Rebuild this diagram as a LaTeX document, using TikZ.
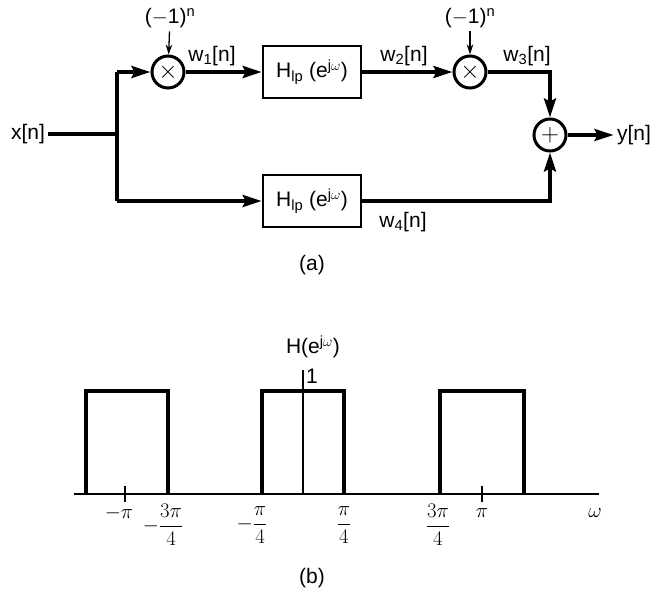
\documentclass[tikz,border=0pt]{standalone}
\usepackage{fontspec}
\usepackage{amsmath}
\setmainfont{Liberation Sans}
\usetikzlibrary{arrows.meta}

\begin{document}
\begin{tikzpicture}[
  x=1pt, y=-1pt,
  every node/.style={font=\fontsize{21}{24}\selectfont},
  sig/.style={line width=3.6pt},
  sigarr/.style={line width=3.6pt, -{Stealth[length=19pt,width=12pt,inset=3pt]}},
  thinarr/.style={line width=1.3pt, -{Stealth[length=10pt,width=6.5pt]}},
  mult/.style={draw, circle, line width=3pt, minimum size=32pt, inner sep=0pt,
    font=\fontsize{27}{27}\selectfont},
  filt/.style={draw, rectangle, line width=2.6pt, minimum width=98pt, minimum height=52pt, inner sep=0pt},
  rect/.style={line width=3.6pt},
  thinline/.style={line width=1.5pt}]
\useasboundingbox (0,0) rectangle (654,592);

% (a) block diagram
\node (xin) at (28,134) {x[n]};
\coordinate (split) at (117,134);
\coordinate (topL) at (117,72);
\coordinate (botL) at (117,201);
\node[mult] (m1) at (168,72) {$\times$};
\node (p1) at (170,18) {($-$1)\textsuperscript{n}};
\node[filt] (h1) at (312,72) {H\textsubscript{lp} (e\textsuperscript{j$\omega$})};
\node[mult] (m2) at (470,72) {$\times$};
\node (p2) at (470,18) {($-$1)\textsuperscript{n}};
\node[mult] (add) at (550,135) {$+$};
\node (yout) at (634,135) {y[n]};
\node[filt] (h2) at (312,201) {H\textsubscript{lp} (e\textsuperscript{j$\omega$})};

\node (w1) at (212,56) {w\textsubscript{1}[n]};
\node (w2) at (404,56) {w\textsubscript{2}[n]};
\node (w3) at (527,56) {w\textsubscript{3}[n]};
\node (w4) at (403,222) {w\textsubscript{4}[n]};

\draw[sig] (xin.east) -- (split);
\draw[sig] (botL) -- (topL);
\draw[sigarr] (topL) -- (m1);
\draw[sigarr] (m1) -- (h1);
\draw[sigarr] (h1) -- (m2);
\draw[sigarr] (m2) -| (add);
\draw[sigarr] (botL) -- (h2);
\draw[sigarr] (h2) -| (add);
\draw[sigarr] (add) -- (yout);
\draw[thinarr] (p1) -- (m1);
\draw[thinarr] (p2) -- (m2);

\node (capa) at (312,265) {(a)};

% (b) frequency response
\draw[thinline] (74,494) -- (599,494);
\draw[rect] (86,494) |- (168,391) -- (168,494);
\draw[rect] (262,494) |- (344,391) -- (344,494);
\draw[rect] (440,494) |- (524,391) -- (524,494);
\draw[thinline] (303,370) -- (303,494);
\draw[thinline] (125,486) -- (125,502);
\draw[thinline] (482,486) -- (482,502);

\node (hlab) at (313,347) {H(e\textsuperscript{j$\omega$})};
\node[anchor=west, inner sep=1pt] (one) at (305,376) {1};
\node (lmpi) at (119,513) {$-\pi$};
\node (lm3) at (163,525) {$-\dfrac{3\pi}{4}$};
\node (lm1) at (252,525) {$-\dfrac{\pi}{4}$};
\node (lp1) at (344,525) {$\dfrac{\pi}{4}$};
\node (lp3) at (438,525) {$\dfrac{3\pi}{4}$};
\node (lpi) at (482,513) {$\pi$};
\node (lom) at (595,513) {$\omega$};

\node (capb) at (312,578) {(b)};
\end{tikzpicture}
\end{document}
